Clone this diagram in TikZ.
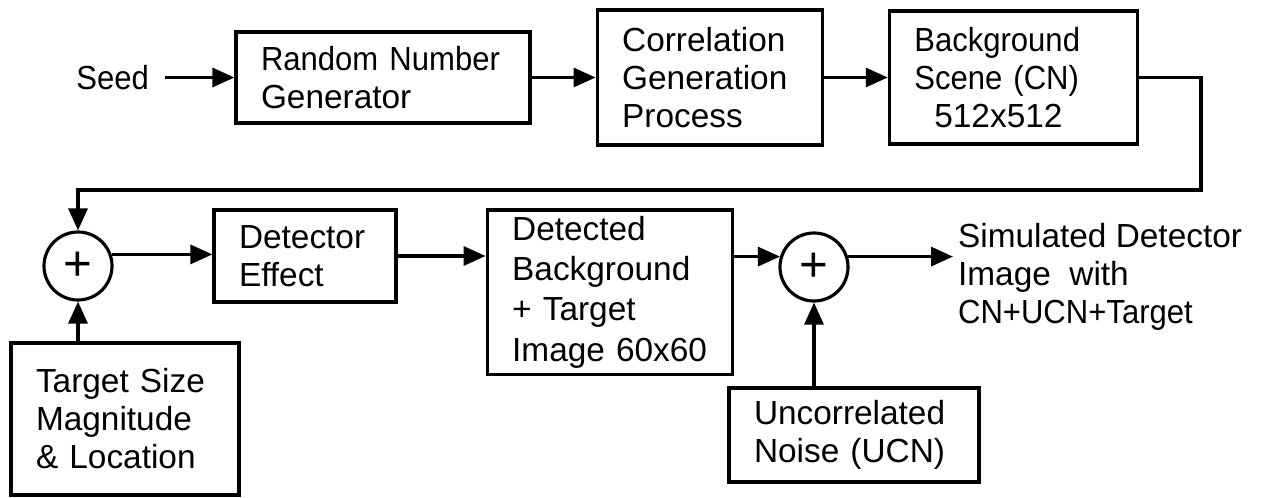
\documentclass[tikz,border=0pt]{standalone}
\usepackage{fontspec}
\setmainfont{Liberation Sans}
\newfontfamily\tightfont{Liberation Sans}[FakeStretch=0.93]
\usepackage{tikz}
\usetikzlibrary{arrows.meta, positioning}

\begin{document}
\begin{tikzpicture}[
    >={Triangle[length=0.44cm, width=0.38cm]},
    line width=1.8pt,
    block/.style={rectangle, draw, align=left, inner xsep=0.5cm, font=\fontsize{19}{21.6}\selectfont},
    summer/.style={circle, draw, minimum size=1.36cm, inner sep=0pt, font=\fontsize{28}{28}\selectfont},
    txt/.style={align=left, font=\fontsize{19}{21.6}\selectfont}
]
\useasboundingbox (0,0) rectangle (25.28,-9.96);

% 1. Correlated background
\node[block, text width=4.88cm, minimum height=1.82cm] (rng) at (7.66,-1.55) {{\tightfont Random Number}\\Generator};
\node[txt, inner xsep=0.3cm, left=1.38cm of rng] (seed) {\tightfont Seed};
\node[block, text width=3.5cm, minimum height=2.7cm, right=1.28cm of rng] (corr) {Correlation\\Generation\\Process};
\node[block, text width=3.96cm, minimum height=2.66cm, right=1.28cm of corr] (bg) {{\tightfont Background}\\{\tightfont Scene (CN)}\\\hspace*{0.6em}512x512};

% 2. Target and detector
\node[summer] (sum1) at (1.56,-5.32) {+};
\node[block, text width=2.64cm, minimum height=1.84cm] (det) at (6.1,-5.12) {Detector\\Effect};
\node[block, text width=3.9cm, minimum height=3.16cm, font=\fontsize{19}{23}\selectfont, right=1.76cm of det.north east, anchor=north west] (detd) {Detected\\Background\\+ Target\\Image 60x60};
\node[block, text width=3.56cm, minimum height=3.04cm] (tgt) at (2.5,-8.38) {Target Size\\Magnitude\\\& Location};

% 3. Uncorrelated noise
\node[summer] (sum2) at (16.28,-5.34) {+};
\node[block, text width=4cm, minimum height=1.88cm] (ucn) at (17.08,-8.7) {Uncorrelated\\Noise (UCN)};
\node[txt, inner xsep=2pt, anchor=west] (out) at (19.06,-5.53) {Simulated Detector\\Image\ \ with\\{\tightfont CN+UCN+Target}};

\coordinate (fb) at (24.02,-3.8);

\draw[->] (seed) -- (rng);
\draw[->] (rng) -- (corr);
\draw[->] (corr) -- (bg);
\draw[->] (bg.east) -| (fb) -| (sum1.north);

\draw[->] (sum1 |- tgt.north) -- (sum1.south);
\draw[->] (sum1.19) -- (sum1.19 -| det.west);
\draw[->] (det) -- (det -| detd.west);
\draw[->] (sum2.163 -| detd.east) -- (sum2.163);
\draw[->] (sum2 |- ucn.north) -- (sum2.south);
\draw[->] (sum2.17) -- (sum2.17 -| out.west);

\end{tikzpicture}
\end{document}
